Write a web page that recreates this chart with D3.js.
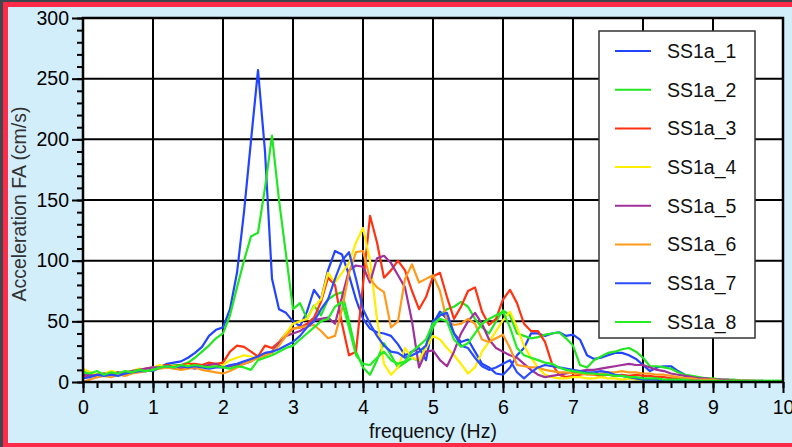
<!DOCTYPE html>
<html>
<head>
<meta charset="utf-8">
<script src="https://cdn.jsdelivr.net/npm/d3@7"></script>
<style>
  html, body { margin: 0; padding: 0; background: #41454d; }
  svg { display: block; font-family: 'Liberation Sans', Arial, sans-serif; }
</style>
</head>
<body>
<div id="chart"></div>
<script>
// frequency grid (Hz), one value every 0.1 Hz
const freqs = d3.range(101).map(i => i / 10);

const seriesNames = ['SS1a_1', 'SS1a_2', 'SS1a_3', 'SS1a_4', 'SS1a_5', 'SS1a_6', 'SS1a_7', 'SS1a_8'];
const seriesColors = ['#2244ff', '#22e622', '#ff3311', '#ffee00', '#a0309a', '#ff9a1a', '#2a4cff', '#22ee22'];

const ss1a_1 = [5, 6, 4, 6, 5, 7, 6, 8, 9, 10,
  9, 12, 15, 16, 17, 20, 24, 29, 38, 43,
  45, 60, 90, 140, 199, 257, 190, 85, 60, 57,
  50, 46, 58, 76, 68, 92, 108, 105, 88, 68,
  52, 44, 41, 40, 38, 31, 22, 25, 28, 18,
  48, 58, 52, 40, 33, 35, 25, 15, 12, 7,
  6, 12, 22, 28, 40, 40, 38, 40, 41, 38,
  39, 35, 22, 19, 20, 22, 24, 24, 22, 19,
  14, 9, 12, 13, 13, 9, 6, 4, 3, 3,
  2, 2, 1, 1, 1, 1, 0, 1, 0, 0,
  0];
const ss1a_2 = [10, 8, 6, 7, 6, 8, 7, 9, 10, 9,
  11, 13, 12, 14, 14, 16, 20, 25, 30, 36,
  40, 55, 78, 100, 120, 123, 160, 203, 150, 105,
  60, 65, 52, 63, 55, 68, 72, 74, 50, 25,
  12, 6, 18, 32, 22, 12, 16, 20, 17, 30,
  45, 55, 60, 62, 66, 62, 52, 45, 40, 50,
  59, 55, 40, 38, 36, 37, 39, 40, 41, 36,
  30, 14, 12, 18, 21, 24, 25, 27, 28, 25,
  20, 13, 13, 12, 11, 8, 6, 5, 4, 3,
  3, 2, 2, 2, 1, 1, 1, 1, 1, 1,
  1];
const ss1a_3 = [4, 5, 6, 5, 7, 6, 8, 9, 10, 11,
  12, 13, 14, 13, 14, 15, 15, 14, 16, 15,
  16, 25, 30, 29, 25, 21, 30, 28, 33, 40,
  44, 45, 48, 53, 66, 86, 80, 48, 22, 25,
  80, 137, 115, 86, 92, 100, 92, 75, 60, 70,
  87, 90, 70, 52, 62, 75, 78, 58, 47, 52,
  68, 76, 65, 48, 42, 42, 33, 15, 6, 4,
  5, 6, 7, 6, 5, 6, 5, 6, 5, 6,
  5, 5, 4, 4, 3, 3, 3, 2, 2, 2,
  2, 1, 1, 1, 1, 1, 1, 0, 0, 0,
  0];
const ss1a_4 = [11, 8, 6, 7, 9, 8, 7, 9, 11, 10,
  12, 14, 12, 13, 12, 14, 12, 13, 12, 14,
  14, 18, 20, 22, 21, 19, 22, 25, 32, 40,
  48, 50, 52, 62, 68, 90, 82, 90, 98, 115,
  127, 100, 52, 15, 6, 12, 28, 20, 18, 28,
  38, 35, 28, 22, 15, 7, 12, 25, 33, 42,
  51, 58, 45, 30, 20, 12, 6, 4, 3, 3,
  4, 4, 3, 3, 4, 3, 3, 2, 3, 2,
  2, 2, 2, 1, 1, 1, 1, 1, 1, 0,
  0, 0, 0, 0, 0, 0, 0, 0, 0, 0,
  0];
const ss1a_5 = [6, 5, 6, 7, 6, 8, 7, 9, 10, 11,
  12, 12, 13, 12, 11, 12, 11, 13, 14, 15,
  12, 13, 14, 15, 17, 21, 22, 25, 32, 38,
  40, 42, 46, 51, 52, 53, 48, 70, 92, 96,
  95, 82, 102, 104, 98, 88, 78, 50, 12, 25,
  26, 18, 13, 25, 40, 50, 57, 48, 35, 28,
  25, 22, 20, 15, 10, 6, 4, 5, 6, 7,
  8, 9, 10, 10, 11, 12, 13, 14, 15, 14,
  14, 12, 10, 9, 7, 6, 5, 4, 3, 3,
  2, 2, 2, 1, 1, 1, 1, 1, 0, 0,
  0];
const ss1a_6 = [0, 2, 4, 5, 4, 6, 5, 7, 8, 9,
  10, 11, 12, 11, 10, 11, 12, 10, 9, 8,
  7, 9, 12, 15, 17, 20, 22, 24, 30, 38,
  44, 45, 46, 47, 42, 36, 38, 60, 90, 107,
  108, 85, 78, 74, 45, 50, 85, 97, 82, 85,
  88, 75, 50, 47, 48, 52, 48, 35, 33, 36,
  39, 28, 14, 13, 12, 12, 10, 9, 8, 8,
  7, 7, 6, 6, 7, 8, 8, 9, 8, 8,
  7, 7, 6, 6, 5, 4, 3, 3, 2, 2,
  2, 1, 1, 1, 1, 1, 0, 0, 0, 0,
  0];
const ss1a_7 = [3, 4, 6, 5, 6, 5, 7, 8, 9, 9,
  10, 12, 13, 12, 13, 12, 13, 12, 11, 12,
  12, 14, 15, 17, 19, 21, 24, 25, 27, 30,
  33, 38, 45, 50, 60, 68, 85, 100, 107, 85,
  60, 48, 38, 30, 25, 24, 20, 22, 25, 30,
  50, 55, 57, 40, 30, 28, 20, 13, 10, 12,
  15, 18, 8, 3, 8, 12, 14, 13, 12, 11,
  10, 9, 8, 8, 9, 8, 6, 5, 4, 3,
  2, 2, 2, 1, 1, 1, 1, 1, 1, 0,
  0, 0, 0, 0, 0, 0, 0, 0, 0, 0,
  0];
const ss1a_8 = [8, 7, 9, 6, 8, 7, 9, 8, 10, 9,
  10, 12, 13, 12, 14, 13, 14, 13, 12, 13,
  12, 11, 13, 12, 10, 18, 20, 22, 25, 28,
  30, 35, 40, 45, 50, 52, 62, 66, 45, 22,
  15, 14, 20, 25, 18, 15, 17, 25, 30, 35,
  48, 52, 50, 35, 29, 32, 40, 48, 52, 55,
  58, 45, 28, 22, 20, 18, 16, 15, 12, 10,
  9, 8, 7, 7, 6, 6, 5, 5, 4, 4,
  3, 3, 3, 2, 2, 2, 2, 1, 1, 1,
  1, 1, 1, 1, 1, 1, 1, 1, 1, 1,
  1];

const seriesValues = [ss1a_1, ss1a_2, ss1a_3, ss1a_4, ss1a_5, ss1a_6, ss1a_7, ss1a_8];

const xMajorTicks = d3.range(0, 11, 1);
const xMinorTicks = d3.range(0, 51).map(i => i / 5);
const yMajorTicks = d3.range(0, 301, 50);
const yMinorTicks = d3.range(0, 301, 10);

const W = 792, H = 447;
const plot = { left: 83, right: 783, top: 18, bottom: 382 };

const svg = d3.select('#chart').append('svg')
  .attr('width', W)
  .attr('height', H);

// frame: dark edge, red band, light blue panel
svg.append('rect').attr('width', W).attr('height', H).attr('fill', '#41454d');
svg.append('rect').attr('x', 3).attr('y', 2).attr('width', W - 3).attr('height', H - 2).attr('fill', '#fd2b47');
svg.append('rect').attr('x', 8).attr('y', 7).attr('width', W - 8).attr('height', 436).attr('fill', '#d3eefb');

const x = d3.scaleLinear().domain([0, 10]).range([plot.left, plot.right]);
const y = d3.scaleLinear().domain([0, 300]).range([plot.bottom, plot.top]);

svg.append('rect')
  .attr('x', plot.left).attr('y', plot.top)
  .attr('width', plot.right - plot.left).attr('height', plot.bottom - plot.top)
  .attr('fill', '#fff');

// grid
const grid = svg.append('g').attr('stroke', '#000').attr('stroke-width', 2);
grid.selectAll('.vgrid')
  .data(xMajorTicks.slice(1, -1))
  .enter().append('line')
  .attr('x1', d => x(d)).attr('x2', d => x(d))
  .attr('y1', plot.top).attr('y2', plot.bottom);
grid.selectAll('.hgrid')
  .data(yMajorTicks.slice(1, -1))
  .enter().append('line')
  .attr('x1', plot.left).attr('x2', plot.right)
  .attr('y1', d => y(d)).attr('y2', d => y(d));

// series
const line = d3.line()
  .x((d, i) => x(freqs[i]))
  .y(d => y(d));

svg.append('g')
  .selectAll('path')
  .data(seriesValues)
  .enter().append('path')
  .attr('d', d => line(d))
  .attr('fill', 'none')
  .attr('stroke', (d, i) => seriesColors[i])
  .attr('stroke-width', 2.2)
  .attr('stroke-linejoin', 'round');

// plot border
svg.append('rect')
  .attr('x', plot.left).attr('y', plot.top)
  .attr('width', plot.right - plot.left).attr('height', plot.bottom - plot.top)
  .attr('fill', 'none')
  .attr('stroke', '#000')
  .attr('stroke-width', 2.5);

// axes
const styleAxis = g => {
  g.select('.domain').remove();
  g.selectAll('line').attr('stroke', '#000').attr('stroke-width', 2);
  g.selectAll('text').attr('fill', '#000').style('font-size', '19.5px');
};

svg.append('g')
  .attr('transform', `translate(${plot.left},0)`)
  .call(d3.axisLeft(y).tickValues(yMinorTicks).tickSize(6).tickFormat(''))
  .call(styleAxis);
svg.append('g')
  .attr('transform', `translate(${plot.left},0)`)
  .call(d3.axisLeft(y).tickValues(yMajorTicks).tickSize(11).tickPadding(3))
  .call(styleAxis);

svg.append('g')
  .attr('transform', `translate(0,${plot.bottom})`)
  .call(d3.axisBottom(x).tickValues(xMinorTicks).tickSize(6).tickFormat(''))
  .call(styleAxis);
svg.append('g')
  .attr('transform', `translate(0,${plot.bottom})`)
  .call(d3.axisBottom(x).tickValues(xMajorTicks).tickSize(11).tickPadding(7))
  .call(styleAxis);

// axis titles
svg.append('text')
  .attr('x', (plot.left + plot.right) / 2)
  .attr('y', 438)
  .attr('text-anchor', 'middle')
  .style('font-size', '19.5px')
  .attr('fill', '#111')
  .text('frequency (Hz)');

svg.append('text')
  .attr('transform', 'translate(26,204) rotate(-90)')
  .attr('text-anchor', 'middle')
  .style('font-size', '19.5px')
  .attr('fill', '#333')
  .text('Acceleration FA (cm/s)');

// legend
const legend = svg.append('g');
legend.append('rect')
  .attr('x', 599).attr('y', 31)
  .attr('width', 156).attr('height', 307)
  .attr('fill', '#fff')
  .attr('stroke', '#333')
  .attr('stroke-width', 1.5);

const items = legend.selectAll('.legend-item')
  .data(seriesNames)
  .enter().append('g')
  .attr('class', 'legend-item')
  .attr('transform', (d, i) => `translate(0,${51 + i * 38.7})`);

items.append('line')
  .attr('x1', 615).attr('x2', 651)
  .attr('stroke', (d, i) => seriesColors[i])
  .attr('stroke-width', 2);

items.append('text')
  .attr('x', 667)
  .attr('dy', '0.35em')
  .style('font-size', '19.5px')
  .attr('fill', '#111')
  .text(d => d);
</script>
</body>
</html>
